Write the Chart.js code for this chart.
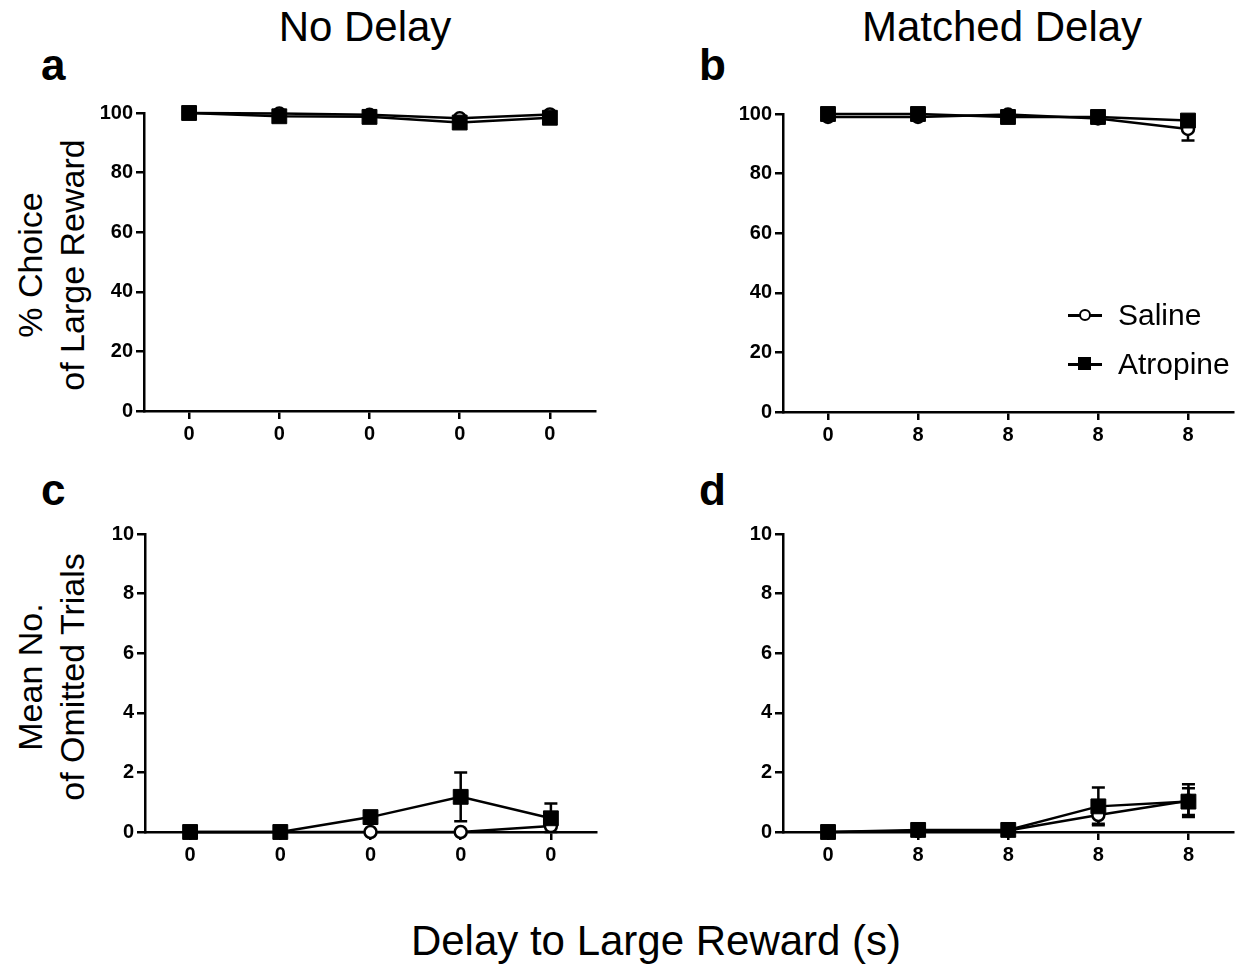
<!DOCTYPE html>
<html>
<head>
<meta charset="utf-8">
<script src="https://cdn.jsdelivr.net/npm/chart.js@4.4.0/dist/chart.umd.min.js"></script>
<style>
body { margin: 0; background: #fff; width: 1249px; height: 964px; position: relative; overflow: hidden;
       font-family: Arial, "Liberation Sans", sans-serif; color: #000; }
canvas { position: absolute; }
.t { position: absolute; white-space: nowrap; line-height: 1; }
.title { font-size: 42px; transform: translateX(-50%); }
.letter { font-size: 44px; font-weight: bold; }
.ytitle { position: absolute; font-size: 34px; line-height: 42px; text-align: center; white-space: nowrap;
          transform: translate(-50%, -50%) rotate(-90deg); }
.leg { font-size: 30px; }
.legline { position: absolute; height: 2.5px; background: #000; }
.legcirc { position: absolute; width: 8px; height: 8px; border: 2.5px solid #000; border-radius: 50%; background: #fff; }
.legsq { position: absolute; width: 13px; height: 13px; background: #000; }
</style>
</head>
<body>
<div class="t title" style="left:365px; top:6px;">No Delay</div>
<div class="t title" style="left:1002px; top:6px;">Matched Delay</div>
<div class="t letter" style="left:41px; top:43px;">a</div>
<div class="t letter" style="left:699px; top:43px;">b</div>
<div class="t letter" style="left:41px; top:468px;">c</div>
<div class="t letter" style="left:699px; top:468px;">d</div>
<div class="ytitle" style="left:51px; top:265px;">% Choice<br>of Large Reward</div>
<div class="ytitle" style="left:51px; top:677px;">Mean No.<br>of Omitted Trials</div>
<div class="t title" style="left:656px; top:920px;">Delay to Large Reward (s)</div>

<canvas id="panelA" width="610" height="360" style="left:0px; top:95px;"></canvas>
<canvas id="panelB" width="605" height="360" style="left:640px; top:95px;"></canvas>
<canvas id="panelC" width="610" height="360" style="left:0px; top:515px;"></canvas>
<canvas id="panelD" width="605" height="360" style="left:640px; top:515px;"></canvas>

<div class="legline" style="left:1068px; top:314px; width:34px;"></div>
<div class="legcirc" style="left:1078.5px; top:308.5px;"></div>
<div class="t leg" style="left:1118px; top:300px;">Saline</div>
<div class="legline" style="left:1068px; top:363px; width:34px;"></div>
<div class="legsq" style="left:1078px; top:357px;"></div>
<div class="t leg" style="left:1118px; top:349px;">Atropine</div>

<script>
// x tick labels (delay in s)
const xLabelsNoDelay = ['0', '0', '0', '0', '0'];
const xLabelsMatched = ['0', '8', '8', '8', '8'];

// y ticks
const yTicksChoice = [0, 20, 40, 60, 80, 100];
const yTicksOmitted = [0, 2, 4, 6, 8, 10];

// a: % choice, no delay
const salineChoiceNoDelay = [100, 99.8, 99.4, 98.2, 99.5];
const salineChoiceNoDelayErr = [0, 0.2, 0.4, 0.8, 0.5];
const atropineChoiceNoDelay = [100, 98.9, 98.7, 96.8, 98.4];
const atropineChoiceNoDelayErr = [0, 0.6, 0.7, 1.2, 0.9];

// b: % choice, matched delay
const salineChoiceMatched = [99, 99, 99.8, 98.5, 95];
const salineChoiceMatchedErr = [0.8, 0.8, 0.2, 0.8, 3.9];
const atropineChoiceMatched = [100, 100, 99, 99, 97.8];
const atropineChoiceMatchedErr = [0, 0, 0.6, 0.6, 1.2];

// c: omitted trials, no delay
const salineOmitNoDelay = [0, 0, 0, 0, 0.2];
const salineOmitNoDelayErr = [0, 0, 0, 0, 0];
const atropineOmitNoDelay = [0, 0, 0.5, 1.18, 0.46];
const atropineOmitNoDelayErr = [0, 0, 0.15, 0.82, 0.5];

// d: omitted trials, matched delay
const salineOmitMatched = [0, 0.03, 0.05, 0.57, 1.05];
const salineOmitMatchedErr = [0, 0.03, 0.05, 0.29, 0.55];
const atropineOmitMatched = [0, 0.07, 0.07, 0.86, 1.02];
const atropineOmitMatchedErr = [0, 0.05, 0.05, 0.63, 0.45];

Chart.defaults.font.family = 'Arial, "Liberation Sans", sans-serif';
Chart.defaults.color = '#000';

const tickFont = { size: 20, weight: 'bold' };

// draws mean +/- error whiskers with caps, under the markers
const errorBars = {
    id: 'errorBars',
    beforeDatasetsDraw(chart) {
        const ctx = chart.ctx;
        const yScale = chart.scales.y;
        ctx.save();
        ctx.strokeStyle = '#000';
        ctx.lineWidth = 2.5;
        chart.data.datasets.forEach((ds, i) => {
            const meta = chart.getDatasetMeta(i);
            ds.errors.forEach((err, j) => {
                if (!err) return;
                const x = meta.data[j].x;
                const v = ds.data[j].y;
                const top = yScale.getPixelForValue(v + err);
                const bot = yScale.getPixelForValue(Math.max(0, v - err));
                ctx.beginPath();
                ctx.moveTo(x, top); ctx.lineTo(x, bot);
                ctx.moveTo(x - 6.5, top); ctx.lineTo(x + 6.5, top);
                ctx.moveTo(x - 6.5, bot); ctx.lineTo(x + 6.5, bot);
                ctx.stroke();
            });
        });
        ctx.restore();
    }
};

function toPoints(values) {
    return values.map((v, i) => ({ x: i, y: v }));
}

function makePanel(id, xLabels, yTicks, saline, salineErr, atropine, atropineErr, frame) {
    const ctx = document.getElementById(id);
    return new Chart(ctx, {
        type: 'line',
        data: {
            datasets: [{
                label: 'Saline',
                data: toPoints(saline),
                errors: salineErr,
                borderColor: '#000',
                borderWidth: 2.5,
                pointStyle: 'circle',
                pointRadius: 6,
                pointBackgroundColor: '#fff',
                pointBorderColor: '#000',
                pointBorderWidth: 2.5,
                order: 2,
                clip: false
            }, {
                label: 'Atropine',
                data: toPoints(atropine),
                errors: atropineErr,
                borderColor: '#000',
                borderWidth: 2.5,
                pointStyle: 'rect',
                pointRadius: 10.5,
                pointBackgroundColor: '#000',
                pointBorderColor: '#000',
                pointBorderWidth: 1,
                order: 1,
                clip: false
            }]
        },
        options: {
            responsive: false,
            animation: false,
            devicePixelRatio: 1,
            layout: { padding: { top: frame.top, right: frame.right, left: 0, bottom: 0 } },
            plugins: { legend: { display: false }, tooltip: { enabled: false } },
            scales: {
                x: {
                    type: 'linear',
                    min: -0.5,
                    max: 4.5,
                    afterBuildTicks: s => { s.ticks = xLabels.map((_, i) => ({ value: i })); },
                    afterFit: s => { s.height = frame.xh; },
                    ticks: { callback: v => xLabels[v], font: tickFont, color: '#000', padding: 3, autoSkip: false, maxRotation: 0 },
                    grid: { drawOnChartArea: false, tickLength: 8, color: '#000', lineWidth: 2.5 },
                    border: { color: '#000', width: 2.5 }
                },
                y: {
                    min: yTicks[0],
                    max: yTicks[yTicks.length - 1],
                    afterBuildTicks: s => { s.ticks = yTicks.map(v => ({ value: v })); },
                    afterFit: s => { s.width = frame.yw; },
                    ticks: { font: tickFont, color: '#000', padding: 3 },
                    grid: { drawOnChartArea: false, tickLength: 8, color: '#000', lineWidth: 2.5 },
                    border: { color: '#000', width: 2.5 }
                }
            }
        },
        plugins: [errorBars]
    });
}

makePanel('panelA', xLabelsNoDelay, yTicksChoice, salineChoiceNoDelay, salineChoiceNoDelayErr,
    atropineChoiceNoDelay, atropineChoiceNoDelayErr, { top: 18, right: 15, xh: 44, yw: 144 });
makePanel('panelB', xLabelsMatched, yTicksChoice, salineChoiceMatched, salineChoiceMatchedErr,
    atropineChoiceMatched, atropineChoiceMatchedErr, { top: 19, right: 12, xh: 43, yw: 143 });
makePanel('panelC', xLabelsNoDelay, yTicksOmitted, salineOmitNoDelay, salineOmitNoDelayErr,
    atropineOmitNoDelay, atropineOmitNoDelayErr, { top: 19, right: 14, xh: 43, yw: 145 });
makePanel('panelD', xLabelsMatched, yTicksOmitted, salineOmitMatched, salineOmitMatchedErr,
    atropineOmitMatched, atropineOmitMatchedErr, { top: 19, right: 11, xh: 43, yw: 143 });
</script>
</body>
</html>
